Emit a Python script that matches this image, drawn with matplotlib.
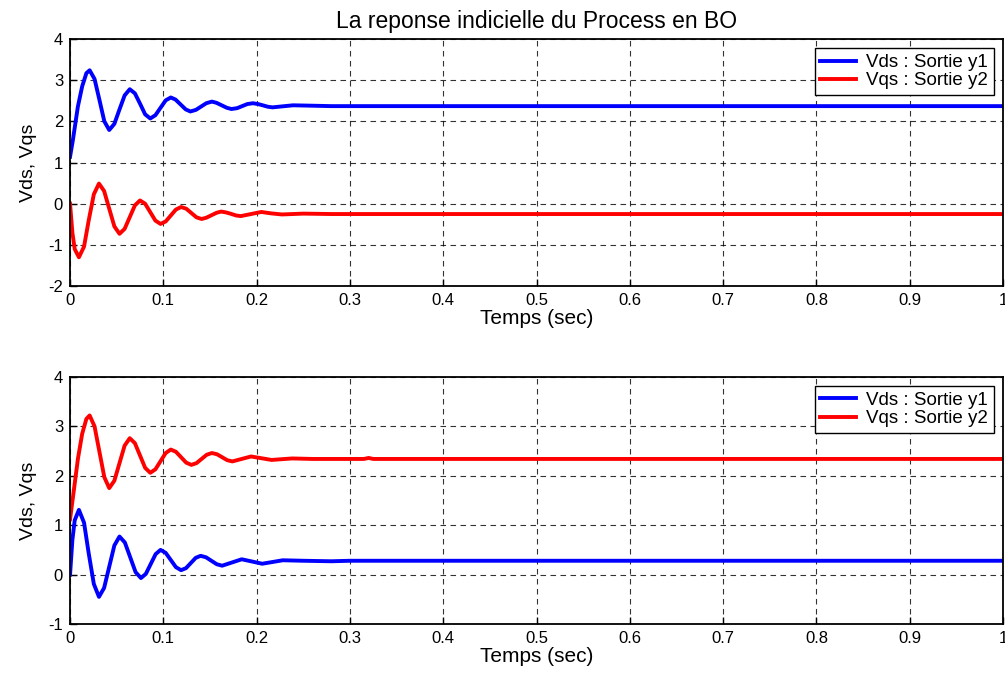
import matplotlib
matplotlib.use("Agg")
import matplotlib.pyplot as plt

plt.rcParams['font.family'] = ['Liberation Sans', 'DejaVu Sans']
plt.rcParams['axes.unicode_minus'] = False

# readings (time in s, value)
t_top_y1 = [0, 0.003, 0.0084, 0.013, 0.0175, 0.021, 0.02625, 0.0315, 0.03675, 0.042,
            0.0475, 0.053, 0.0585, 0.064, 0.0695, 0.075, 0.0805, 0.086, 0.0915, 0.097,
            0.1025, 0.108, 0.113, 0.1185, 0.124, 0.129, 0.135, 0.1405, 0.146, 0.152,
            0.157, 0.1625, 0.168, 0.173, 0.179, 0.1845, 0.19, 0.196, 0.2015, 0.2065,
            0.212, 0.217, 0.228, 0.239, 0.26, 0.28, 1.0]
v_top_y1 = [1.14, 1.54, 2.36, 2.85, 3.17, 3.24, 3.03, 2.52, 2.00, 1.79,
            1.94, 2.29, 2.63, 2.78, 2.68, 2.43, 2.17, 2.07, 2.15, 2.33,
            2.51, 2.58, 2.53, 2.41, 2.29, 2.24, 2.28, 2.36, 2.44, 2.48,
            2.45, 2.39, 2.33, 2.30, 2.32, 2.37, 2.42, 2.44, 2.42, 2.39,
            2.355, 2.34, 2.365, 2.39, 2.38, 2.37, 2.37]

t_top_y2 = [0, 0.0025, 0.005, 0.0095, 0.015, 0.020, 0.0255, 0.031, 0.0365, 0.042,
            0.0475, 0.053, 0.0585, 0.064, 0.0695, 0.075, 0.0805, 0.086, 0.0915, 0.097,
            0.1025, 0.108, 0.1135, 0.119, 0.1245, 0.130, 0.1355, 0.141, 0.146, 0.1515,
            0.157, 0.162, 0.167, 0.1725, 0.178, 0.183, 0.194, 0.205, 0.216, 0.227,
            0.25, 0.28, 1.0]
v_top_y2 = [0, -0.7, -1.1, -1.30, -1.04, -0.405, 0.23, 0.49, 0.31, -0.12,
            -0.55, -0.73, -0.61, -0.325, -0.04, 0.08, 0.0, -0.205, -0.41, -0.49,
            -0.43, -0.285, -0.14, -0.08, -0.12, -0.225, -0.33, -0.37, -0.34, -0.28,
            -0.22, -0.19, -0.21, -0.245, -0.285, -0.30, -0.25, -0.20, -0.235, -0.26,
            -0.24, -0.25, -0.25]

t_bot_y1 = [0, 0.0025, 0.005, 0.0095, 0.015, 0.020, 0.0255, 0.031, 0.0365, 0.042,
            0.0475, 0.053, 0.05875, 0.0645, 0.07025, 0.076, 0.08125, 0.0865, 0.09175, 0.097,
            0.1025, 0.108, 0.1135, 0.119, 0.12425, 0.1295, 0.13475, 0.140, 0.14575, 0.1515,
            0.15725, 0.163, 0.1735, 0.184, 0.195, 0.206, 0.217, 0.228, 0.25, 0.28,
            0.30, 1.0]
v_bot_y1 = [0, 0.7, 1.1, 1.31, 1.05, 0.43, -0.19, -0.45, -0.27, 0.16,
            0.59, 0.77, 0.65, 0.35, 0.05, -0.07, 0.015, 0.215, 0.415, 0.50,
            0.44, 0.295, 0.15, 0.09, 0.13, 0.235, 0.34, 0.38, 0.35, 0.28,
            0.21, 0.18, 0.245, 0.31, 0.265, 0.22, 0.255, 0.29, 0.28, 0.27,
            0.28, 0.28]

t_bot_y2 = [0, 0.003, 0.0085, 0.013, 0.0175, 0.021, 0.02625, 0.0315, 0.03675, 0.042,
            0.0475, 0.053, 0.0585, 0.064, 0.0695, 0.075, 0.0805, 0.086, 0.0915, 0.097,
            0.1025, 0.108, 0.1135, 0.119, 0.1245, 0.130, 0.1355, 0.141, 0.1465, 0.152,
            0.1575, 0.163, 0.1685, 0.174, 0.184, 0.194, 0.205, 0.216, 0.238, 0.26,
            0.315, 0.32, 0.325, 1.0]
v_bot_y2 = [1.12, 1.55, 2.35, 2.85, 3.15, 3.22, 3.00, 2.485, 1.97, 1.75,
            1.90, 2.255, 2.61, 2.76, 2.66, 2.41, 2.16, 2.06, 2.13, 2.295,
            2.46, 2.53, 2.485, 2.375, 2.265, 2.22, 2.255, 2.34, 2.425, 2.46,
            2.435, 2.375, 2.315, 2.29, 2.34, 2.39, 2.355, 2.32, 2.35, 2.34,
            2.34, 2.36, 2.34, 2.34]

x_ticks = [0, 0.1, 0.2, 0.3, 0.4, 0.5, 0.6, 0.7, 0.8, 0.9, 1]
x_labels = ['0', '0.1', '0.2', '0.3', '0.4', '0.5', '0.6', '0.7', '0.8', '0.9', '1']
top_yticks = [-2, -1, 0, 1, 2, 3, 4]
bot_yticks = [-1, 0, 1, 2, 3, 4]

title = 'La reponse indicielle du Process en BO'
xlabel = 'Temps (sec)'
ylabel = 'Vds, Vqs'
labels = ['Vds : Sortie y1', 'Vqs : Sortie y2']

fig = plt.figure(figsize=(10.05, 6.78), dpi=100)
ax1 = fig.add_axes([0.0697, 0.578, 0.9283, 0.3645])
ax2 = fig.add_axes([0.0697, 0.0796, 0.9283, 0.3645])

panels = [
    (ax1, (t_top_y1, v_top_y1), (t_top_y2, v_top_y2), top_yticks),
    (ax2, (t_bot_y1, v_bot_y1), (t_bot_y2, v_bot_y2), bot_yticks),
]

for ax, s1, s2, yt in panels:
    ax.plot(s1[0], s1[1], color='#0000ff', lw=2.8, label=labels[0])
    ax.plot(s2[0], s2[1], color='#ff0000', lw=2.8, label=labels[1])
    ax.set_xlim(0, 1)
    ax.set_ylim(yt[0], yt[-1])
    ax.set_xticks(x_ticks)
    ax.set_xticklabels(x_labels)
    ax.set_yticks(yt)
    ax.tick_params(direction='in', labelsize=12, length=5, width=1, pad=5)
    ax.grid(True, color='black', linestyle=(0, (5, 4)), linewidth=0.8, alpha=0.8)
    for sp in ax.spines.values():
        sp.set_linewidth(1.3)
    ax.set_xlabel(xlabel, fontsize=15, labelpad=1)
    ax.set_ylabel(ylabel, fontsize=14, labelpad=8)
    leg = ax.legend(loc='upper right', fontsize=13.5, frameon=True, fancybox=False,
                    handlelength=1.9, borderaxespad=0.5, labelspacing=0.05,
                    borderpad=0.3, handletextpad=0.55)
    leg.get_frame().set_edgecolor('black')
    leg.get_frame().set_linewidth(1.0)
    leg.get_frame().set_alpha(1)

ax1.set_title(title, fontsize=16.5, pad=8)

fig.savefig('out.png', dpi=100)
